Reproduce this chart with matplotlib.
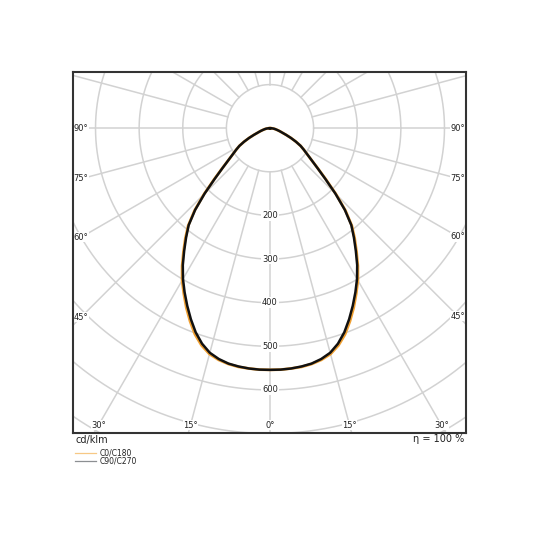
import numpy as np
import matplotlib
matplotlib.use("Agg")
import matplotlib.pyplot as plt
from matplotlib.lines import Line2D

# ---- data (cd/klm) ----
gamma = [0, 2.5, 5, 7.5, 10, 12.5, 15, 17.5, 20, 22.5, 25, 27.5, 30, 32.5, 35, 37.5,
         40, 42.5, 45, 47.5, 50, 52.5, 55, 57.5, 60, 62.5, 65, 67.5, 70, 72.5, 75,
         77.5, 80, 82.5, 85, 87.5, 90]
c0_c180 = [554, 554, 553, 552, 549, 544, 536, 522, 503, 479, 454, 428, 403, 375, 346, 319,
           292, 256, 214, 174, 143, 120, 104, 92, 81, 67, 53, 40, 30, 24, 19,
           15, 12, 9, 6, 3, 0]
c90_c270 = [554, 554, 553, 551, 548, 542, 533, 518, 498, 474, 449, 424, 399, 372, 343, 316,
            290, 254, 212, 172, 142, 120, 104, 92, 81, 67, 53, 40, 30, 24, 19,
            15, 12, 9, 6, 3, 0]
rings = [100, 200, 300, 400, 500, 600, 700, 800, 900]
ring_labels = [200, 300, 400, 500, 600]
spoke_angles = list(range(0, 360, 15))
angle_labels = [0, 15, 30, 45, 60, 75, 90]
series_names = ["C0/C180", "C90/C270"]
eta_text = "η = 100 %"
unit_text = "cd/klm"

# ---- layout ----
W = H = 540
fig = plt.figure(figsize=(W / 100, H / 100), dpi=100)
L, R, T, B = 73, 466, 72, 433
ax = fig.add_axes([L / W, (H - B) / H, (R - L) / W, (B - T) / H])
cx, cy = 270, 128.2
upp = 2.2925  # units per pixel
xmin, xmax = -(cx - L) * upp, (R - cx) * upp
ymin, ymax = -(B - cy) * upp, (cy - T) * upp
ax.set_xlim(xmin, xmax)
ax.set_ylim(ymin, ymax)
ax.set_xticks([])
ax.set_yticks([])
for s in ax.spines.values():
    s.set_color("#333333")
    s.set_linewidth(1.5)
    s.set_zorder(10)

grid_col = "#d2d2d2"
t = np.linspace(0, 2 * np.pi, 721)
for r in rings:
    ax.plot(r * np.cos(t), r * np.sin(t), color=grid_col, lw=1.1, zorder=1)
for a in spoke_angles:
    g = np.radians(a)
    ax.plot([100 * np.sin(g), 1200 * np.sin(g)], [-100 * np.cos(g), -1200 * np.cos(g)],
            color=grid_col, lw=1.1, zorder=1)

# radial labels
for r in ring_labels:
    ax.text(0, -r, str(r), fontsize=6, ha="center", va="center", color="#222222",
            bbox=dict(facecolor="white", edgecolor="none", pad=0.6), zorder=3)

# angle labels along the inset frame
d = 8 * upp
for a in angle_labels:
    for side in (-1, 1):
        if a == 0 and side == 1:
            continue
        g = np.radians(a)
        sx, sy = side * np.sin(g), -np.cos(g)
        cand = []
        if abs(sx) > 1e-9:
            cand.append(((xmin + d) if sx < 0 else (xmax - d)) / sx)
        if abs(sy) > 1e-9:
            cand.append((ymin + d) / sy if sy < 0 else 1e9)
        k = min(c for c in cand if c > 0)
        ax.text(k * sx, k * sy, f"{a}°", fontsize=6, ha="center", va="center",
                color="#222222", bbox=dict(facecolor="white", edgecolor="none", pad=0.3),
                zorder=3)

# curves
def curve(vals):
    g = np.radians(np.array(gamma, dtype=float))
    v = np.array(vals, dtype=float)
    xl, yl = -v * np.sin(g), -v * np.cos(g)
    xr, yr = v * np.sin(g), -v * np.cos(g)
    return np.concatenate([xl[::-1], xr[1:]]), np.concatenate([yl[::-1], yr[1:]])

x0, y0 = curve(c0_c180)
ax.plot(x0, y0, color="#f0a032", lw=2.0, zorder=5, solid_joinstyle="round")
x1, y1 = curve(c90_c270)
ax.plot(x1, y1, color="#111111", lw=1.8, zorder=6, solid_joinstyle="round")

# texts under the frame
fig.text(76 / W, 1 - 439.5 / H, unit_text, fontsize=7, ha="left", va="center", color="#222222")
fig.text(464 / W, 1 - 439.5 / H, eta_text, fontsize=7, ha="right", va="center", color="#222222")

# legend
leg_cols = ["#f7c885", "#8c8f92"]
for i, (name, col) in enumerate(zip(series_names, leg_cols)):
    yy = 1 - (453 + 8.2 * i) / H
    fig.add_artist(Line2D([75 / W, 96 / W], [yy, yy], color=col, lw=0.9, transform=fig.transFigure))
    fig.text(100 / W, yy, name, fontsize=5.5, ha="left", va="center", color="#222222")

fig.savefig("out.png", dpi=100, facecolor="white")
